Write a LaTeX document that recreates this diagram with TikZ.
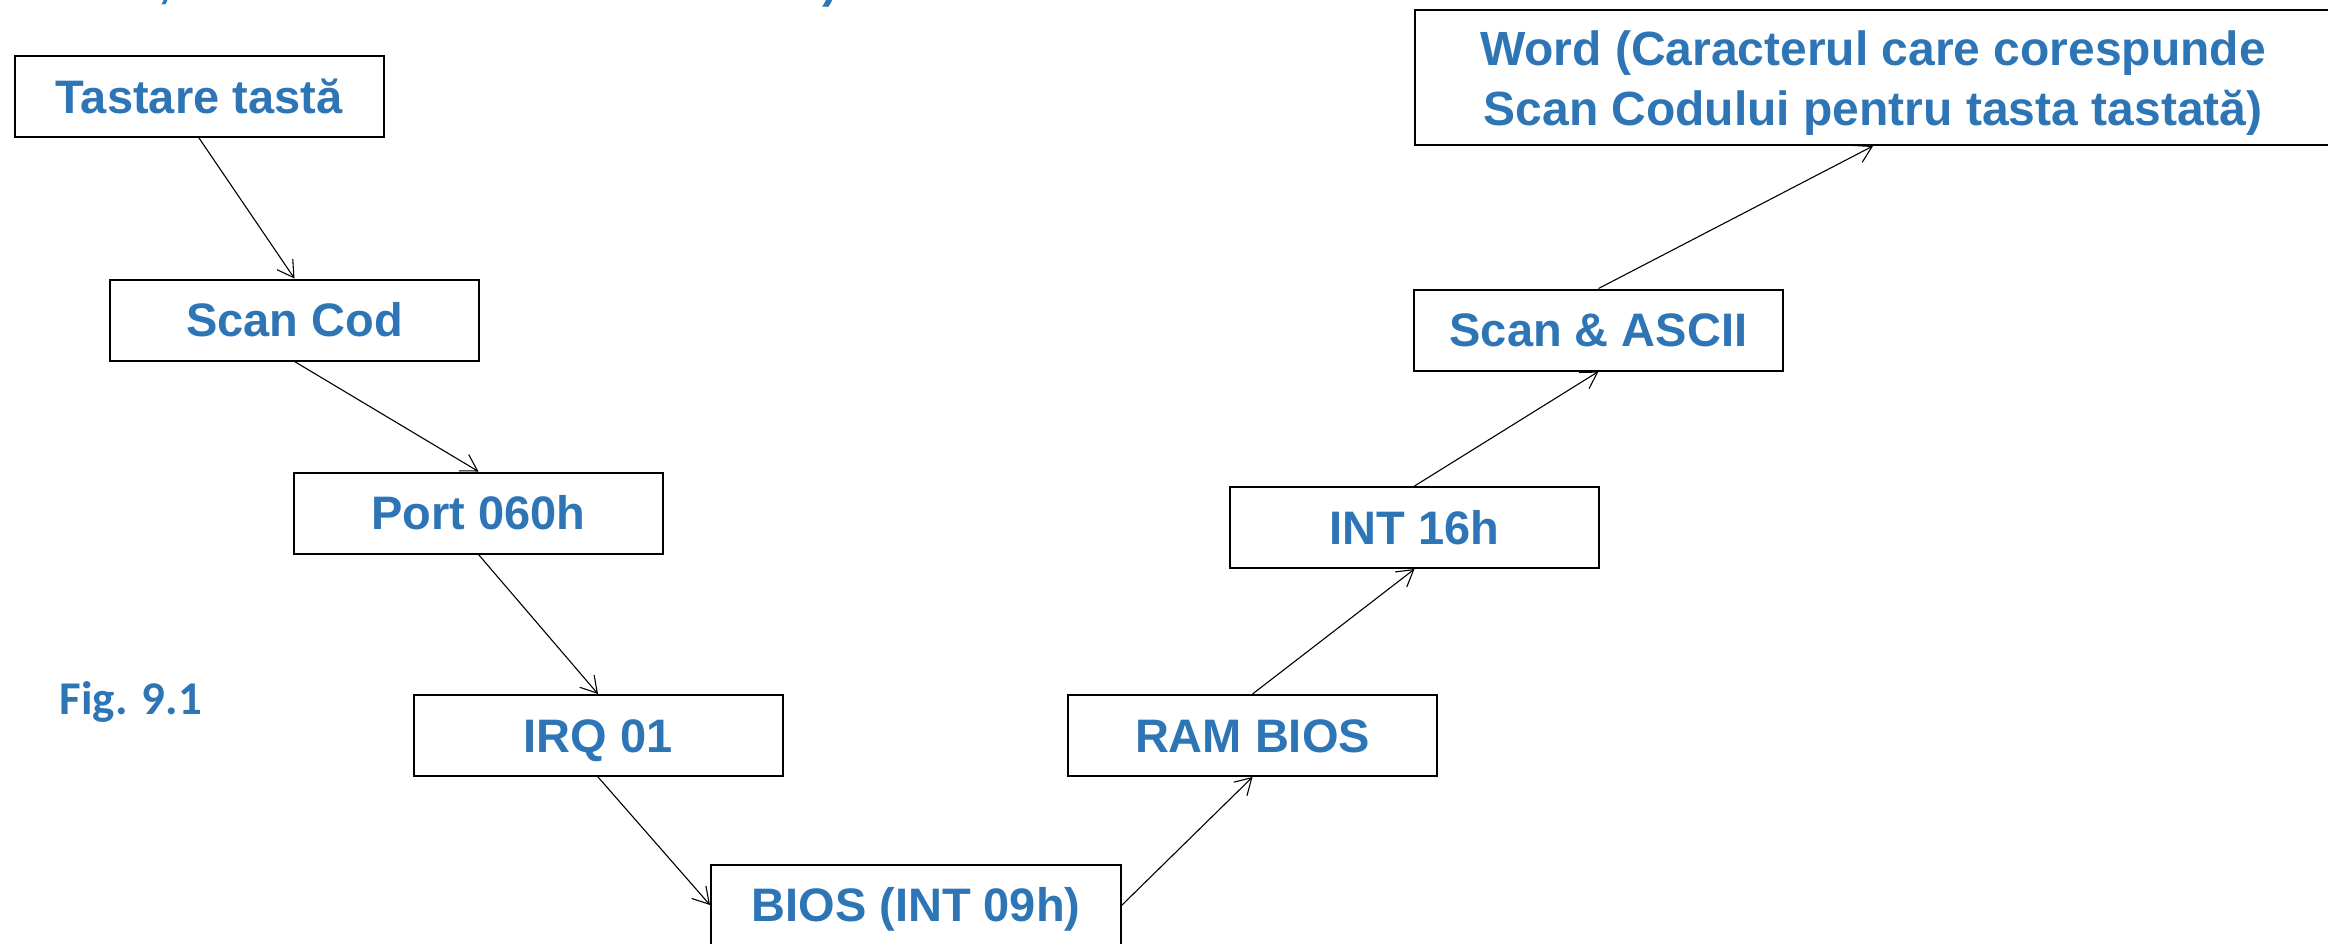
\documentclass[tikz,border=0pt]{standalone}
\usepackage{fontspec}
\setmainfont{Liberation Sans}
\newfontfamily\figfont{Carlito}
\usetikzlibrary{arrows.meta}
\definecolor{boxblue}{RGB}{46,117,182}

\begin{document}
\begin{tikzpicture}[x=0.5pt,y=-0.5pt,
  boxbase/.style={draw=black, line width=1pt, fill=white, inner sep=0pt,
    minimum width=184.5pt, minimum height=40.5pt, text=boxblue,
    font=\fontsize{23.5pt}{30.5pt}\selectfont\bfseries},
  stepbox/.style={boxbase, text height=16.8pt, text depth=0pt},
  flow/.style={line width=0.55pt, -{Straight Barb[length=8pt,width=9.5pt]}},
  caption/.style={text=boxblue, inner sep=0pt, anchor=base}]
\useasboundingbox (0,0) rectangle (2328,943);

% bits of the heading line above the chart
\node[caption, font=\fontsize{23.5pt}{28pt}\selectfont\bfseries] (fraga) at (165,-3) {,};
\node[caption, font=\fontsize{23.5pt}{28pt}\selectfont\bfseries] (fragb) at (830,-3) {)};

% descending chain: key press down to the BIOS handler
\node[stepbox] (tast)  at (199,96.5)   {Tastare tastă};
\node[stepbox] (scan)  at (294.5,320)  {Scan Cod};
\node[stepbox] (port)  at (478.5,513)  {Port 060h};
\node[stepbox] (irq)   at (598,735.5)  {IRQ 01};
\node[stepbox, minimum width=205pt] (bios) at (916,905) {BIOS (INT 09h)};

% ascending chain: buffer up to the returned word
\node[stepbox] (ram)   at (1252.5,735.5) {RAM BIOS};
\node[stepbox] (int16) at (1414.5,527.5) {INT 16h};
\node[stepbox] (ascii) at (1598.5,330)   {Scan \& ASCII};
\node[boxbase, minimum width=458pt, minimum height=67.5pt] (word) at (1873,77.5) {};
\node[text=boxblue, inner sep=0pt, align=center,
  font=\fontsize{24pt}{30pt}\selectfont\bfseries] (wordtxt) at (1873,83)
  {Word (Caracterul care corespunde\\Scan Codului pentru tasta tastată)};

\node[caption, font=\figfont\fontsize{23.5pt}{28pt}\selectfont\bfseries] (fig) at (131,714) {Fig. 9.1};

\draw[flow] (tast.south)  -- (scan.north);
\draw[flow] (scan.south)  -- (port.north);
\draw[flow] (port.south)  -- (irq.north);
\draw[flow] (irq.south)   -- (bios.west);
\draw[flow] (bios.east)   -- (ram.south);
\draw[flow] (ram.north)   -- (int16.south);
\draw[flow] (int16.north) -- (ascii.south);
\draw[flow] (ascii.north) -- (word.south);
\end{tikzpicture}
\end{document}
